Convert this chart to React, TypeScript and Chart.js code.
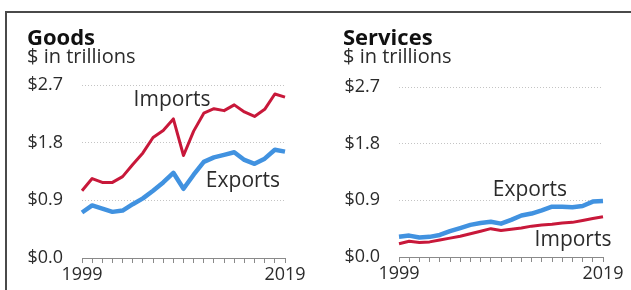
import React, { useEffect, useRef } from "react";
import { Chart, registerables } from "chart.js";

Chart.register(...registerables);

const years = [
  "1999", "2000", "2001", "2002", "2003", "2004", "2005", "2006", "2007", "2008", "2009",
  "2010", "2011", "2012", "2013", "2014", "2015", "2016", "2017", "2018", "2019",
];
const goodsImports = [1.05, 1.24, 1.18, 1.18, 1.27, 1.46, 1.64, 1.88, 1.99, 2.17, 1.6, 1.98, 2.26, 2.33, 2.3, 2.39, 2.28, 2.21, 2.32, 2.56, 2.51];
const goodsExports = [0.71, 0.82, 0.77, 0.72, 0.74, 0.84, 0.93, 1.05, 1.18, 1.33, 1.08, 1.3, 1.5, 1.57, 1.61, 1.65, 1.53, 1.47, 1.55, 1.69, 1.66];
const servicesExports = [0.32, 0.34, 0.31, 0.32, 0.35, 0.41, 0.46, 0.51, 0.54, 0.56, 0.53, 0.59, 0.66, 0.69, 0.74, 0.8, 0.8, 0.79, 0.81, 0.88, 0.89];
const servicesImports = [0.21, 0.25, 0.23, 0.24, 0.27, 0.3, 0.33, 0.37, 0.41, 0.45, 0.42, 0.44, 0.46, 0.49, 0.51, 0.52, 0.54, 0.55, 0.58, 0.61, 0.64];
const yTicks = [0, 0.9, 1.8, 2.7];

const RED = "#C8183A";
const BLUE = "#4192E0";
const TEXT = "#2b2b2b";
const FONT = "'Open Sans', sans-serif";

type SeriesLabel = { text: string; x: number; y: number };

type PanelProps = {
  left: number;
  width: number;
  title: string;
  imports: number[];
  exports: number[];
  labels: SeriesLabel[];
  areaLeft: number;
  areaRight: number;
  areaTop: number;
  areaBottom: number;
};

function Panel(p: PanelProps) {
  const ref = useRef<HTMLCanvasElement | null>(null);
  useEffect(() => {
    const canvas = ref.current;
    if (!canvas) return;
    const height = 290;
    const labelPlugin = {
      id: "seriesLabels",
      afterDatasetsDraw(chart: any) {
        const ctx = chart.ctx;
        const xs = chart.scales.x;
        const ys = chart.scales.y;
        ctx.save();
        ctx.font = `21px ${FONT}`;
        ctx.fillStyle = TEXT;
        ctx.textAlign = "center";
        ctx.textBaseline = "middle";
        p.labels.forEach((l) => {
          ctx.fillText(l.text, xs.getPixelForValue(l.x), ys.getPixelForValue(l.y));
        });
        ctx.restore();
      },
    };
    const chart = new Chart(canvas, {
      type: "line",
      data: {
        labels: years,
        datasets: [
          {
            label: "Imports",
            data: p.imports,
            borderColor: RED,
            borderWidth: 3,
            pointRadius: 0,
            tension: 0,
            borderJoinStyle: "round",
          },
          {
            label: "Exports",
            data: p.exports,
            borderColor: BLUE,
            borderWidth: 4.5,
            pointRadius: 0,
            tension: 0,
            borderJoinStyle: "round",
          },
        ],
      },
      options: {
        responsive: false,
        animation: false,
        devicePixelRatio: 1,
        layout: {
          padding: { top: p.areaTop, left: 0, right: p.width - p.areaRight, bottom: 0 },
        },
        plugins: {
          legend: { display: false },
          tooltip: { enabled: false },
          title: { display: false },
        },
        scales: {
          x: {
            type: "category",
            offset: false,
            grid: {
              display: true,
              drawOnChartArea: false,
              drawTicks: true,
              tickLength: 5,
              color: "#8a8a8a",
            },
            border: { display: true, color: "#8a8a8a", width: 1 },
            ticks: {
              autoSkip: false,
              maxRotation: 0,
              padding: 1,
              color: TEXT,
              font: { family: FONT, size: 18 },
              callback: (_v: any, i: number) =>
                i === 0 || i === years.length - 1 ? years[i] : "",
            },
            afterFit: (s: any) => {
              s.height = height - p.areaBottom;
            },
          },
          y: {
            min: 0,
            max: 2.7,
            afterBuildTicks: (s: any) => {
              s.ticks = yTicks.map((v) => ({ value: v }));
            },
            grid: {
              drawTicks: false,
              color: (c: any) => (c.tick && c.tick.value === 0 ? "rgba(0,0,0,0)" : "#c4c4c4"),
              lineWidth: 1,
            },
            border: { display: false, dash: [1, 2] },
            ticks: {
              padding: 19,
              color: TEXT,
              font: { family: FONT, size: 18 },
              callback: (v: any) => "$" + Number(v).toFixed(1),
            },
            afterFit: (s: any) => {
              s.width = p.areaLeft;
            },
          },
        },
      } as any,
      plugins: [labelPlugin],
    });
    return () => chart.destroy();
  }, []);
  return (
    <div style={{ position: "absolute", left: p.left, top: 0, width: p.width, height: 290 }}>
      <canvas ref={ref} width={p.width} height={290} style={{ width: p.width, height: 290, display: "block" }} />
      <div
        style={{
          position: "absolute",
          left: 27,
          top: 24.5,
          fontFamily: FONT,
          fontWeight: 700,
          fontSize: 22,
          lineHeight: 1,
          color: "#111",
          whiteSpace: "nowrap",
        }}
      >
        {p.title}
      </div>
      <div
        style={{
          position: "absolute",
          left: 27,
          top: 46,
          fontFamily: FONT,
          fontSize: 20,
          lineHeight: 1,
          color: TEXT,
          whiteSpace: "nowrap",
        }}
      >
        $ in trillions
      </div>
    </div>
  );
}

export default function App() {
  return (
    <div
      style={{
        position: "fixed",
        left: 0,
        top: 0,
        width: 631,
        height: 290,
        overflow: "hidden",
        background: "#fff",
      }}
    >
      <div
        style={{
          position: "absolute",
          left: 5,
          top: 11,
          width: 640,
          height: 300,
          borderTop: "2px solid #4a4a4a",
          borderLeft: "2px solid #4a4a4a",
        }}
      />
      <Panel
        left={0}
        width={316}
        title="Goods"
        imports={goodsImports}
        exports={goodsExports}
        labels={[
          { text: "Imports", x: 8.87, y: 2.47 },
          { text: "Exports", x: 15.86, y: 1.2 },
        ]}
        areaLeft={82}
        areaRight={285}
        areaTop={85}
        areaBottom={258}
      />
      <Panel
        left={316}
        width={315}
        title="Services"
        imports={servicesImports}
        exports={servicesExports}
        labels={[
          { text: "Exports", x: 12.84, y: 1.06 },
          { text: "Imports", x: 17.06, y: 0.27 },
        ]}
        areaLeft={83}
        areaRight={287}
        areaTop={87}
        areaBottom={257}
      />
    </div>
  );
}
